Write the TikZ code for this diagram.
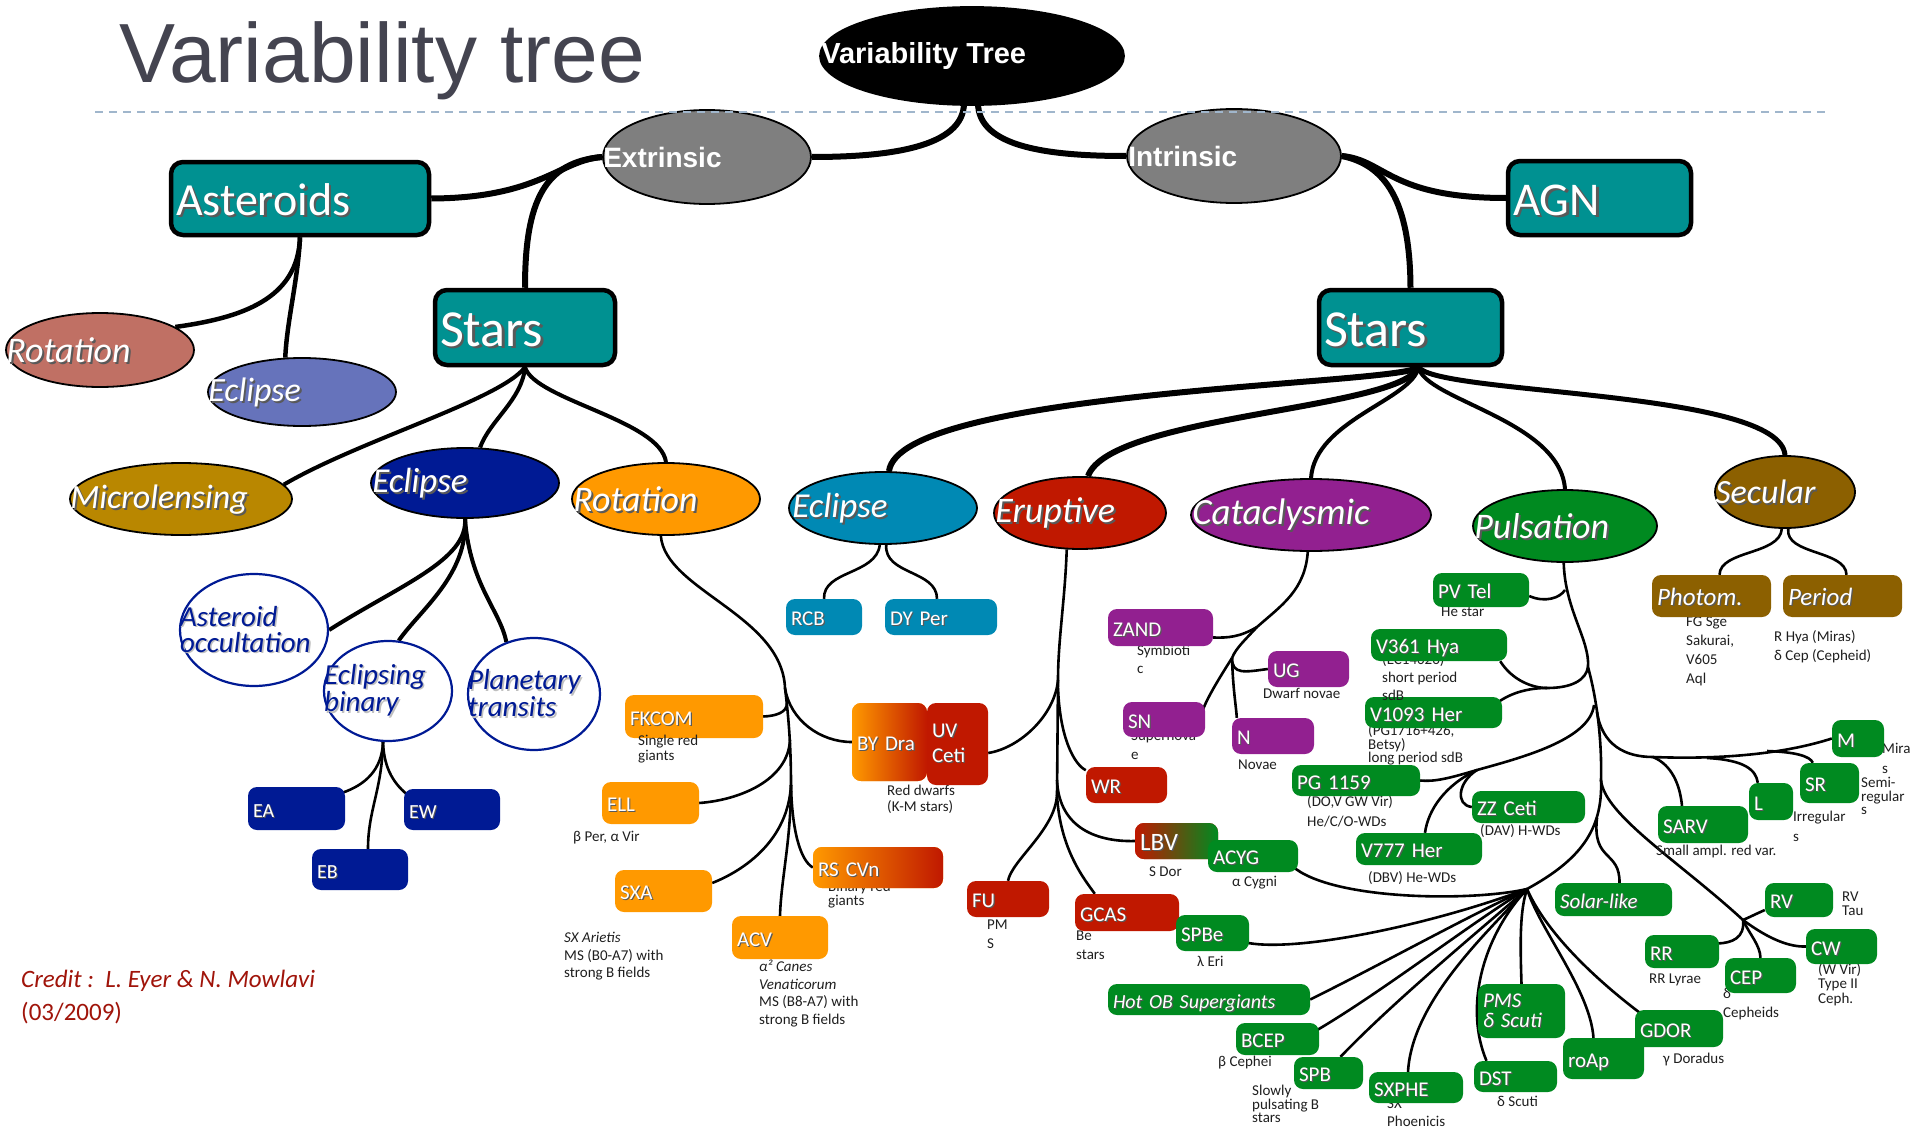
\documentclass[tikz,border=0pt]{standalone}
\usepackage{fontspec}
\setmainfont{Carlito}
\newfontfamily\arialfont{Liberation Sans}
\usetikzlibrary{shapes.geometric,calc,backgrounds}

\definecolor{teal1}{RGB}{0,145,145}
\definecolor{rotAc}{RGB}{192,112,100}
\definecolor{eclAc}{RGB}{102,115,187}
\definecolor{microc}{RGB}{185,135,0}
\definecolor{navy1}{RGB}{0,26,148}
\definecolor{orange1}{RGB}{255,153,0}
\definecolor{lblue}{RGB}{0,137,180}
\definecolor{red1}{RGB}{192,24,0}
\definecolor{purple1}{RGB}{146,32,144}
\definecolor{green1}{RGB}{0,138,32}
\definecolor{brown1}{RGB}{140,96,0}
\definecolor{gray1}{RGB}{127,127,127}
\definecolor{titlecol}{RGB}{68,68,80}
\definecolor{dashcol}{RGB}{160,182,204}
\definecolor{creditcol}{RGB}{160,20,10}

% white text with a soft drop shadow
\newcommand\shd[2][black!65]{\makebox[0pt][l]{\kern0.055em\raisebox{-0.055em}{\textcolor{#1}{#2}}}#2}
% rounded label box: [options]{name}{fill}{centre}{width}{height}{text}
\newcommand\mkbox[7][]{%
  \pgfmathsetmacro\bxw{#5-10}%
  \node[box,fill=#3,text width=\bxw pt,minimum height=#6pt,#1] (#2) at (#4) {\shd{#7}};}

\begin{document}
\begin{tikzpicture}[x=1pt,y=-1pt,
  ellip/.style={ellipse, draw=black, line width=1.8pt, inner sep=0pt},
  ring/.style={ellipse, draw=navy1, line width=2.2pt, fill=white, inner sep=0pt},
  box/.style={rectangle, rounded corners=9pt, inner xsep=5pt, inner ysep=0pt, align=left,
    text=white, font=\fontsize{21}{23}\selectfont, text height=17.5pt, text depth=0pt},
  tbox/.style={draw=black, line width=4.5pt, rounded corners=12pt,
    font=\fontsize{46}{48}\selectfont, text height=33pt},
  ctext/.style={anchor=west, inner sep=0pt, text=white, font=\itshape\fontsize{#1}{#1}\selectfont},
  ctext/.default=35,
  rtext/.style={anchor=west, inner sep=0pt, align=left, text=navy1, font=\itshape\fontsize{29}{26}\selectfont},
  sub/.style={anchor=north west, inner sep=0pt, align=left, text=black!88, font=\fontsize{15}{#1}\selectfont},
  sub/.default=17,
  c1/.style={line width=6pt},
  c2/.style={line width=4.5pt},
  c3/.style={line width=4pt},
  c4/.style={line width=2.6pt},
]

% ---------- title ----------
\node[anchor=base west, inner sep=0pt, text=titlecol, font=\arialfont\fontsize{84}{90}\selectfont] (title) at (119,82) {Variability tree};

% ---------- small descriptions under the boxes ----------
\node[sub] (s-ell) at (573,831) {β Per, α Vir};
\node[sub=17.5] (s-sxa) at (564,932) {\textit{SX Arietis}\\MS (B0-A7) with\\strong B fields};
\node[sub=17.5] (s-acv) at (759,960) {\textit{α² Canes}\\\textit{Venaticorum}\\MS (B8-A7) with\\strong B fields};
\node[sub=14] (s-rscvn) at (828,881) {Binary red\\giants};
\node[sub=16] (s-red) at (887,785) {Red dwarfs\\(K-M stars)};
\node[sub=19] (s-fu) at (987,920) {PM\\S};
\node[sub=19] (s-gcas) at (1076,931) {Be\\stars};
\node[sub] (s-spbe) at (1197,956) {λ Eri};
\node[sub] (s-lbv) at (1149,867) {S Dor};
\node[sub] (s-acyg) at (1232,876) {α Cygni};
\node[sub=18] (s-zand) at (1137,645) {Symbioti\\c};
\node[sub] (s-ug) at (1263,688) {Dwarf novae};
\node[sub=19] (s-sn) at (1131,731) {Supernova\\e};
\node[sub] (s-novae) at (1238,760) {Novae};
\node[sub] (s-pvtel) at (1441,607) {He star};
\node[sub=13] (s-v1093) at (1368,724) {(PG1716+426,\\Betsy)\\long period sdB};
\node[sub=20] (s-pg) at (1307,795) {(DO,V GW Vir)\\He/C/O-WDs};
\node[sub] (s-zz) at (1480,824) {(DAV) H-WDs};
\node[sub] (s-v777) at (1368,871) {(DBV) He-WDs};
\node[sub=20] (s-mira) at (1882,743) {Mira\\s};
\node[sub=13.5] (s-sr) at (1861,777) {Semi-\\regular\\s};
\node[sub=20] (s-lirr) at (1793,811) {Irregular\\s};
\node[sub] (s-sarv) at (1656,845) {Small ampl. red var.};
\node[sub=14] (s-rv) at (1842,892) {RV\\Tau};
\node[sub] (s-rr) at (1649,974) {RR Lyrae};
\node[sub=19] (s-cep) at (1723,988) {δ\\Cepheids};
\node[sub=14.5] (s-cw) at (1818,963) {(W Vir)\\Type II\\Ceph.};
\node[sub] (s-gdor) at (1663,1053) {γ Doradus};
\node[sub] (s-dst) at (1497,1096) {δ Scuti};
\node[sub=18] (s-sxphe) at (1387,1099) {SX\\Phoenicis};
\node[sub=13.5] (s-spb) at (1252,1085) {Slowly\\pulsating B\\stars};
\node[sub] (s-bcep) at (1218,1056) {β Cephei};
\node[sub=19] (s-photom) at (1686,617) {FG Sge\\Sakurai,\\V605\\Aql};
\node[sub=19] (s-period) at (1774,630) {R Hya (Miras)\\δ Cep (Cepheid)};

\mkbox{v1093}{green1}{1433.5,712.5}{137}{31}{V1093 Her}
\node[sub=18] (s-v361) at (1382,653) {(EC14026)\\short period\\sdB};

% ---------- top levels ----------
\node[ellip, fill=black, minimum width=304pt, minimum height=98pt] (root) at (972,56) {};
\node[ellip, fill=gray1, minimum width=208pt, minimum height=94pt] (extr) at (707,157) {};
\node[ellip, fill=gray1, minimum width=214pt, minimum height=94pt] (intr) at (1234,156) {};
\node[anchor=west, inner sep=0pt, text=white, font=\arialfont\bfseries\fontsize{29}{30}\selectfont] (root-t) at ($(root.west)+(2,0)$) {Variability Tree};
\node[anchor=west, inner sep=0pt, text=white, font=\arialfont\bfseries\fontsize{28}{30}\selectfont] (extr-t) at ($(extr.west)+(1,0)$) {Extrinsic};
\node[anchor=west, inner sep=0pt, text=white, font=\arialfont\bfseries\fontsize{28}{30}\selectfont] (intr-t) at ($(intr.west)+(2,0)$) {Intrinsic};

\mkbox[tbox]{ast}{teal1}{300,198.5}{258}{73}{Asteroids}
\mkbox[tbox, font=\fontsize{52}{54}\selectfont, text height=37pt]{starsL}{teal1}{525,327.5}{180}{75}{Stars}
\mkbox[tbox, font=\fontsize{52}{54}\selectfont, text height=37pt]{starsR}{teal1}{1410.5,327.5}{183}{75}{Stars}
\mkbox[tbox, font=\fontsize{47}{49}\selectfont, text height=34pt]{agn}{teal1}{1599.5,198}{183}{74}{AGN}

% ---------- class ellipses ----------
\node[ellip, fill=rotAc, minimum width=188pt, minimum height=74pt] (rotA) at (100,350) {};
\node[ellip, fill=eclAc, minimum width=188pt, minimum height=68pt] (eclA) at (302,392) {};
\node[ellip, fill=microc, minimum width=222pt, minimum height=72pt] (micro) at (181,499) {};
\node[ellip, fill=navy1, minimum width=188pt, minimum height=70pt] (eclD) at (465,483) {};
\node[ellip, fill=orange1, minimum width=188pt, minimum height=72pt] (rotO) at (666,499) {};
\node[ellip, fill=lblue, minimum width=188pt, minimum height=72pt] (eclL) at (883,508) {};
\node[ellip, fill=red1, minimum width=172pt, minimum height=72pt] (erupt) at (1080,513) {};
\node[ellip, fill=purple1, minimum width=240pt, minimum height=72pt] (cata) at (1311,515) {};
\node[ellip, fill=green1, minimum width=184pt, minimum height=72pt] (puls) at (1565,526) {};
\node[ellip, fill=brown1, minimum width=140pt, minimum height=72pt] (sec) at (1785,492) {};

\node[ctext=36] (rotA-t) at ($(rotA.west)+(1,1)$) {\shd{Rotation}};
\node[ctext=34] (eclA-t) at ($(eclA.west)+(1,1)$) {\shd{Eclipse}};
\node[ctext=34] (micro-t) at ($(micro.west)+(1,2)$) {\shd{Microlensing}};
\node[ctext] (eclD-t) at ($(eclD.west)+(2,1)$) {\shd{Eclipse}};
\node[ctext=36] (rotO-t) at ($(rotO.west)+(2,1)$) {\shd{Rotation}};
\node[ctext] (eclL-t) at ($(eclL.west)+(4,1)$) {\shd{Eclipse}};
\node[ctext=36] (erupt-t) at ($(erupt.west)+(2,1)$) {\shd{Eruptive}};
\node[ctext=37] (cata-t) at ($(cata.west)+(2,1)$) {\shd{Cataclysmic}};
\node[ctext=36] (puls-t) at ($(puls.west)+(2,1)$) {\shd{Pulsation}};
\node[ctext=34] (sec-t) at ($(sec.west)+(1,1)$) {\shd{Secular}};

% ---------- eclipse sub-classes ----------
\node[ring, minimum width=148pt, minimum height=112pt] (aoc) at (254,630) {};
\node[ring, minimum width=128pt, minimum height=100pt] (ebin) at (388,691) {};
\node[ring, minimum width=132pt, minimum height=112pt] (ptr) at (534,694) {};
\node[rtext] (aoc-t) at ($(aoc.west)+(1,0)$) {\shd[black!25]{Asteroid}\\\shd[black!25]{occultation}};
\node[rtext] (ebin-t) at ($(ebin.west)+(1,0)$) {\shd[black!25]{Eclipsing}\\\shd[black!25]{binary}};
\node[rtext] (ptr-t) at ($(ptr.west)+(1,0)$) {\shd[black!25]{Planetary}\\\shd[black!25]{transits}};

\mkbox[font=\fontsize{20}{22}\selectfont]{ea}{navy1}{296.5,808.5}{97}{43}{EA}
\mkbox[font=\fontsize{20}{22}\selectfont]{ew}{navy1}{452,809.5}{96}{41}{EW}
\mkbox[font=\fontsize{20}{22}\selectfont]{eb}{navy1}{360,869.5}{96}{41}{EB}

% ---------- rotation (extrinsic stars) ----------
\mkbox{fkcom}{orange1}{694,716.5}{138}{43}{FKCOM}
\node[sub=15] (s-fkcom) at (638,735) {Single red\\giants};
\mkbox{ellb}{orange1}{650.5,803}{97}{42}{ELL}
\mkbox{sxa}{orange1}{663.5,891}{97}{42}{SXA}
\mkbox{acv}{orange1}{780,937.5}{96}{43}{ACV}
\mkbox[left color=orange1, right color=red1]{rscvn}{orange1}{878,867.5}{130}{41}{RS CVn}
\mkbox[left color=orange1, right color=red1]{byd}{orange1}{889.5,742}{75}{78}{BY Dra}
\node[box, fill=red1, text width=51pt, minimum height=82pt, text height=, text depth=, font=\fontsize{21}{25}\selectfont] (uv) at (957.5,744) {\shd{UV}\\\shd{Ceti}};

% ---------- intrinsic eclipse ----------
\mkbox{rcb}{lblue}{824,617}{76}{36}{RCB}
\mkbox{dyper}{lblue}{941,617}{112}{36}{DY Per}

% ---------- eruptive ----------
\mkbox{wr}{red1}{1126.5,785}{81}{36}{WR}
\mkbox[left color=red1, right color=green1, font=\fontsize{25}{27}\selectfont, text height=19pt]{lbv}{red1}{1176.5,841}{83}{36}{LBV}
\mkbox{fu}{red1}{1008,899}{82}{36}{FU}
\mkbox{gcas}{red1}{1127,912.5}{104}{37}{GCAS}

% ---------- cataclysmic ----------
\mkbox{zand}{purple1}{1160.5,627.5}{105}{37}{ZAND}
\mkbox{ug}{purple1}{1308.5,669}{81}{36}{UG}
\mkbox{sn}{purple1}{1164,719.5}{82}{35}{SN}
\mkbox{novae}{purple1}{1273,736}{82}{36}{N}

% ---------- pulsation ----------
\mkbox{pvtel}{green1}{1481,590}{96}{34}{PV Tel}
\mkbox{v361}{green1}{1439,645}{136}{32}{V361 Hya}
\mkbox{pg}{green1}{1356,780.5}{128}{31}{PG 1159}
\mkbox{zz}{green1}{1528.5,807}{113}{32}{ZZ Ceti}
\mkbox{v777}{green1}{1419,849}{126}{32}{V777 Her}
\mkbox{acyg}{green1}{1253,856}{90}{32}{ACYG}
\mkbox{spbe}{green1}{1212.5,933}{73}{36}{SPBe}
\mkbox[font=\itshape\fontsize{20}{22}\selectfont]{hot}{green1}{1209,999.5}{202}{31}{Hot OB Supergiants}
\mkbox{bcep}{green1}{1277.5,1039}{83}{32}{BCEP}
\mkbox{spb}{green1}{1328.5,1073}{69}{32}{SPB}
\mkbox{sxphe}{green1}{1416,1087.5}{94}{31}{SXPHE}
\mkbox{dst}{green1}{1515.5,1076.5}{83}{31}{DST}
\node[box, fill=green1, text width=77pt, minimum height=54pt, text height=, text depth=, font=\itshape\fontsize{21}{20}\selectfont] (pms) at (1521.5,1011) {\shd{PMS}\\\shd{δ Scuti}};
\mkbox{roap}{green1}{1603.5,1058.5}{81}{41}{roAp}
\mkbox{gdor}{green1}{1679,1028.5}{88}{37}{GDOR}
\mkbox[font=\itshape\fontsize{21}{23}\selectfont]{solar}{green1}{1613.5,899.5}{117}{33}{Solar-like}
\mkbox{sarv}{green1}{1703,824.5}{90}{37}{SARV}
\mkbox{lirr}{green1}{1771,801.5}{44}{37}{L}
\mkbox{sr}{green1}{1829.5,783}{59}{40}{SR}
\mkbox{mira}{green1}{1858,738.5}{52}{37}{M}
\mkbox{rv}{green1}{1799,900}{68}{34}{RV}
\mkbox{rr}{green1}{1682,951.5}{74}{33}{RR}
\mkbox{cep}{green1}{1760.5,975.5}{71}{35}{CEP}
\mkbox{cw}{green1}{1841.5,946.5}{71}{35}{CW}

% ---------- secular ----------
\mkbox[font=\itshape\fontsize{25}{27}\selectfont, text height=19pt]{photom}{brown1}{1711.5,596}{119}{42}{Photom.}
\mkbox[font=\itshape\fontsize{25}{27}\selectfont, text height=19pt]{period}{brown1}{1842.5,596}{119}{42}{Period}

% ---------- credit ----------
\node[anchor=west, inner sep=0pt, text=creditcol, font=\itshape\fontsize{25}{30}\selectfont] (credit1) at (21,981) {Credit :\ \ L. Eyer \& N. Mowlavi};
\node[anchor=west, inner sep=0pt, text=creditcol, font=\fontsize{25}{30}\selectfont] (credit2) at (21,1013) {(03/2009)};

% ---------- title rule ----------
\coordinate (rule-l) at (95,112);
\coordinate (rule-r) at (1825,112);
\draw[dashcol, line width=1.6pt, dash pattern=on 8pt off 6pt] (rule-l) -- (rule-r);

% ---------- connectors ----------
\begin{pgfonlayer}{background}
\fill[white] (0,0) rectangle (1915,1132);

% root
\draw[c1] ($(root.south)+(-8,-3)$) .. controls +(0,45) and +(75,0) .. (extr.east);
\draw[c1] ($(root.south)+(6,-3)$) .. controls +(0,45) and +(-75,0) .. (intr.west);
\draw[c1] (extr.west) .. controls (560,160) and (540,198) .. (ast.east);
\draw[c1] (extr.west) .. controls (545,162) and (525,200) .. (starsL.north);
\draw[c1] (intr.east) .. controls (1385,160) and (1390,198) .. (agn.west);
\draw[c1] (intr.east) .. controls (1385,165) and (1410,200) .. (starsR.north);

% asteroids
\draw[c2] (ast.south) .. controls (298,300) and (240,318) .. (rotA.17);
\draw[c2] (ast.south) .. controls (298,280) and (287,320) .. (eclA.116);

% extrinsic stars
\draw[c3] (starsL.south) .. controls (500,400) and (360,440) .. (micro.8);
\draw[c3] (starsL.south) .. controls (522,400) and (490,420) .. (eclD.67);
\draw[c3] (starsL.south) .. controls (535,400) and (660,420) .. (rotO.north);

% eclipse (extrinsic)
\draw[c3] (eclD.south) .. controls (468,560) and (400,585) .. (aoc.east);
\draw[c3] (eclD.south) .. controls (468,575) and (420,610) .. (ebin.78);
\draw[c3] (eclD.south) .. controls (470,585) and (500,610) .. (ptr.118);
\coordinate (jEB) at ($(ebin.south)+(-5,0)$);
\draw[c4] (jEB) .. controls (382,770) and (365,785) .. ($(ea.north east)+(-3,6)$);
\draw[c4] (jEB) .. controls (382,790) and (368,810) .. ($(eb.north)+(8,0)$);
\draw[c4] (jEB) .. controls (384,770) and (395,785) .. ($(ew.north west)+(5,7)$);

% rotation (extrinsic)
\coordinate (jR1) at (785,688);
\coordinate (jR2) at (787,703);
\coordinate (jR3) at (790,740);
\coordinate (jR4) at (791,785);
\draw[c4] (rotO.262) .. controls (665,590) and (782,615) .. (jR1) .. controls (789,720) and (791,750) .. (jR4) .. controls (791,840) and (781,880) .. (acv.north);
\draw[c4] (jR1) .. controls (790,720) and (820,742) .. (byd.west);
\draw[c4] (jR2) .. controls (787,713) and (775,716) .. (fkcom.east);
\draw[c4] (jR3) .. controls (788,780) and (740,800) .. (ellb.east);
\draw[c4] (jR4) .. controls (788,840) and (745,870) .. ($(sxa.east)+(0,-8)$);
\draw[c4] (jR4) .. controls (792,830) and (800,860) .. (rscvn.west);

% intrinsic stars
\coordinate (pSR) at ($(starsR.south)+(8,0)$);
\draw[line width=6pt] (pSR) .. controls (1400,385) and (900,390) .. ($(eclL.north)+(6,0)$);
\draw[line width=6pt] (pSR) .. controls (1400,410) and (1110,415) .. ($(erupt.north)+(8,0)$);
\draw[line width=4pt] (pSR) .. controls (1412,400) and (1315,420) .. (cata.north);
\draw[line width=4pt] (pSR) .. controls (1425,400) and (1560,420) .. (puls.north);
\draw[line width=5pt] (pSR) .. controls (1440,395) and (1780,390) .. (sec.north);

% eclipse (intrinsic)
\draw[c4] (eclL.265) .. controls (876,575) and (823,570) .. (rcb.north);
\draw[c4] (eclL.275) .. controls (884,575) and (937,570) .. ($(dyper.north)+(-4,0)$);

% eruptive
\coordinate (jE1) at (1058,680);
\coordinate (jE2) at (1057,780);
\coordinate (jE3) at (1057,795);
\draw[c4] (erupt.250) .. controls (1065,600) and (1058,640) .. (jE1) -- (jE3);
\draw[c4] (jE1) .. controls (1055,715) and (1020,748) .. ($(uv.east)+(0,9)$);
\draw[c4] ($(jE1)+(0,8)$) .. controls (1060,740) and (1075,765) .. (wr.160);
\draw[c4] (jE2) .. controls (1059,830) and (1100,842) .. (lbv.west);
\draw[c4] (jE3) .. controls (1055,830) and (1012,860) .. (fu.north);
\draw[c4] (jE3) .. controls (1060,850) and (1085,880) .. ($(gcas.north west)+(20,0)$);

% cataclysmic
\coordinate (jC1) at (1257,627);
\coordinate (jC2) at (1232,658);
\draw[c4] (cata.265) .. controls (1305,590) and (1282,605) .. (jC1) .. controls (1245,640) and (1236,648) .. (jC2);
\draw[c4] (jC1) .. controls (1240,637) and (1228,638) .. ($(zand.east)+(0,10)$);
\draw[c4] (jC2) .. controls (1218,680) and (1206,700) .. ($(sn.north east)+(-3,10)$);
\draw[c4] (jC2) .. controls (1232,675) and (1245,672) .. (ug.west);
\draw[c4] (jC2) .. controls (1233,690) and (1236,705) .. ($(novae.north west)+(5,0)$);

% pulsation trunk
\coordinate (pT1) at (1565,590);
\coordinate (pT2) at (1588,667);
\coordinate (pT3) at (1594,705);
\coordinate (pT4) at (1597,712);
\coordinate (pT5) at (1601,780);
\coordinate (pS) at (1597,818);
\coordinate (pH1) at (1527,889);
\coordinate (pH2) at (1743,920);
\draw[c4] (puls.268) .. controls (1565,610) and (1590,640) .. (pT2) .. controls (1597,700) and (1602,740) .. (pT5) .. controls (1603,830) and (1580,860) .. (pH1);
\draw[c4] ($(pvtel.east)+(0,6)$) .. controls (1545,603) and (1560,598) .. (pT1);
\coordinate (pJ1) at (1547,688);
\draw[c4] ($(v361.south east)+(-7,0)$) .. controls (1512,680) and (1532,688) .. (pJ1);
\draw[c4] ($(v1093.north east)+(-5,6)$) .. controls (1512,692) and (1530,688) .. (pJ1);
\draw[c4] (pJ1) .. controls (1572,688) and (1586,680) .. (pT2);
\coordinate (pJ2) at (1477,770);
\draw[c4] (pT3) .. controls (1590,740) and (1520,758) .. (pJ2) .. controls (1450,778) and (1435,782) .. (pg.east);
\draw[c4] (pJ2) .. controls (1458,782) and (1455,805) .. (zz.west);
\draw[c4] (pJ2) .. controls (1445,785) and (1428,810) .. ($(v777.north)+(6,0)$);
\coordinate (pJ3) at (1653,757);
\coordinate (pJ4) at (1707,758);
\coordinate (pJ5) at (1767,751);
\draw[c4] (pT4) .. controls (1602,745) and (1625,757) .. (pJ3) .. controls (1730,760) and (1790,752) .. (mira.west);
\draw[c4] (pJ3) .. controls (1672,765) and (1680,785) .. ($(sarv.north)+(-21,0)$);
\draw[c4] (pJ4) .. controls (1745,760) and (1756,770) .. ($(lirr.north west)+(9,0)$);
\draw[c4] (pJ5) .. controls (1795,752) and (1810,756) .. ($(sr.north west)+(13,0)$);
\draw[c4] (pT5) .. controls (1604,815) and (1680,862) .. (pH2);
\draw[c4] (pH2) .. controls (1752,916) and (1758,913) .. ($(rv.west)+(0,10)$);
\draw[c4] (pH2) .. controls (1745,938) and (1732,943) .. ($(rr.east)+(-2,-8)$);
\draw[c4] (pH2) .. controls (1750,935) and (1760,945) .. (cep.north);
\draw[c4] (pH2) .. controls (1770,940) and (1790,947) .. (cw.west);
\draw[c4] (pS) .. controls (1592,862) and (1620,850) .. ($(solar.north)+(6,0)$);
\draw[c4] ($(acyg.east)+(-6,10)$) .. controls (1330,900) and (1470,902) .. (pH1);
\draw[c4] ($(spbe.east)+(-1,10)$) .. controls (1300,952) and (1430,925) .. (pH1);
\draw[c4] (hot.east) .. controls (1380,965) and (1470,915) .. (pH1);
\draw[c4] ($(bcep.east)+(-2,-9)$) .. controls (1385,990) and (1475,920) .. (pH1);
\draw[c4] ($(spb.north)+(12,0)$) .. controls (1395,1000) and (1480,930) .. (pH1);
\draw[c4] ($(sxphe.north)+(-8,0)$) .. controls (1412,1000) and (1490,930) .. (pH1);
\draw[c4] ($(dst.north)+(-29,0)$) .. controls (1465,1010) and (1480,940) .. (pH1);
\draw[c4] (pms.north) .. controls (1520,940) and (1520,910) .. (pH1);
\draw[c4] ($(roap.north)+(-10,0)$) .. controls (1590,990) and (1540,930) .. (pH1);
\draw[c4] ($(gdor.north west)+(5,3)$) .. controls (1590,975) and (1545,930) .. (pH1);

% secular
\draw[c4] (sec.265) .. controls (1780,555) and (1720,550) .. ($(photom.north)+(8,0)$);
\draw[c4] (sec.275) .. controls (1785,555) and (1846,550) .. ($(period.north)+(4,0)$);
\end{pgfonlayer}

\useasboundingbox (0,0) rectangle (1915,1132);
\end{tikzpicture}
\end{document}
